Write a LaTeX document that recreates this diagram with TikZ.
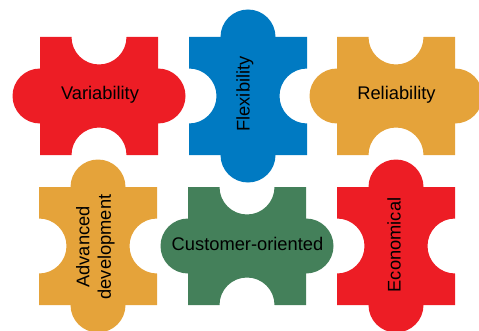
\documentclass[tikz,border=0pt]{standalone}
\usepackage{fontspec}
\setmainfont{Liberation Sans}
\definecolor{pred}{RGB}{237,29,37}
\definecolor{pblue}{RGB}{0,122,194}
\definecolor{porange}{RGB}{229,163,58}
\definecolor{pgreen}{RGB}{68,128,90}
\newcommand\puzzleA[2]{%
  \fill[#2, shift={(#1)}] (-59,59) -- (-27.5,59) arc[start angle=180, end angle=360, radius=27.5]
    -- (59,59) -- (59,27.5) arc[start angle=90, end angle=-90, radius=27.5]
    -- (59,-59) -- (27.5,-59) arc[start angle=0, end angle=180, radius=27.5]
    -- (-59,-59) -- (-59,-27.5) arc[start angle=-90, end angle=-270, radius=27.5] -- cycle;}
\newcommand\puzzleB[2]{%
  \fill[#2, shift={(#1)}] (-59,59) -- (-27.5,59) arc[start angle=180, end angle=0, radius=27.5]
    -- (59,59) -- (59,27.5) arc[start angle=90, end angle=270, radius=27.5]
    -- (59,-59) -- (27.5,-59) arc[start angle=0, end angle=-180, radius=27.5]
    -- (-59,-59) -- (-59,-27.5) arc[start angle=-90, end angle=90, radius=27.5] -- cycle;}
\begin{document}
\begin{tikzpicture}[x=1pt,y=1pt,
  lbl/.style={text=black, font=\fontsize{18.3}{21.5}\selectfont, inner sep=0pt, align=center}]
\useasboundingbox (0,0) rectangle (479,330);
\puzzleA{99,234}{pred}
\puzzleB{248,234}{pblue}
\puzzleA{396,234}{porange}
\puzzleB{98,84}{porange}
\puzzleA{247,84}{pgreen}
\puzzleB{396,84}{pred}
\node[lbl] (var) at (100,235.5) {Variability};
\node[lbl, rotate=90] (flex) at (245,236) {Flexibility};
\node[lbl] (rel) at (396.5,235.5) {Reliability};
\node[lbl, rotate=90] (adv) at (95.5,83) {Advanced\\development};
\node[lbl] (cust) at (247.5,86) {Customer-oriented};
\node[lbl, rotate=90] (eco) at (394,85) {Economical};
\end{tikzpicture}
\end{document}
